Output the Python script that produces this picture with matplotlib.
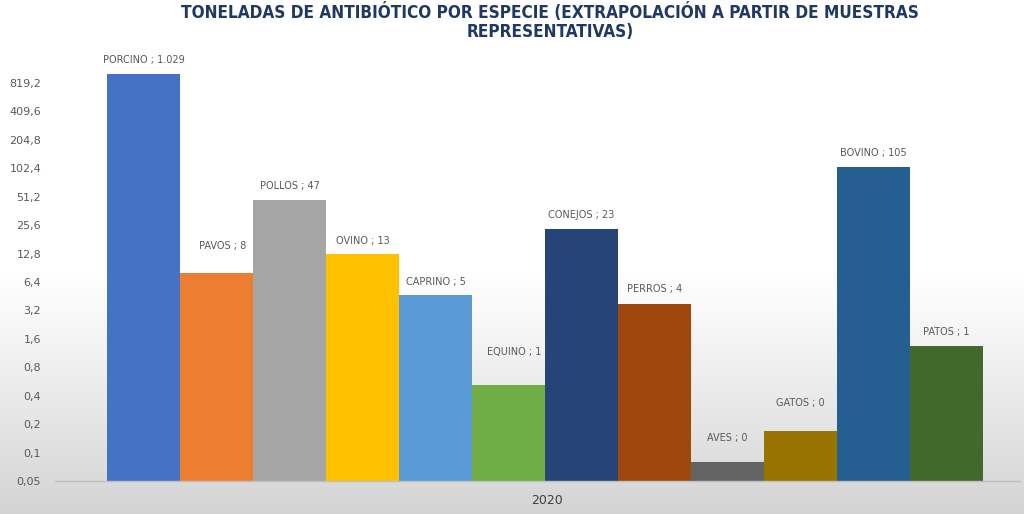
import numpy as np
import matplotlib
matplotlib.use("Agg")
import matplotlib.pyplot as plt
from matplotlib.ticker import FixedLocator, FixedFormatter, NullLocator

especies = ["PORCINO", "PAVOS", "POLLOS", "OVINO", "CAPRINO", "EQUINO",
            "CONEJOS", "PERROS", "AVES", "GATOS", "BOVINO", "PATOS"]
toneladas = [1029, 7.9, 47, 12.8, 4.7, 0.52, 23.3, 3.7, 0.08, 0.17, 105, 1.34]
colores = ["#4472C4", "#ED7D31", "#A5A5A5", "#FFC000", "#5B9BD5", "#70AD47",
           "#264478", "#9E480E", "#636363", "#997300", "#255E91", "#43682B"]
ticks_y = [0.05 * 2 ** k for k in range(15)]
anio = "2020"
titulo = ("TONELADAS DE ANTIBIÓTICO POR ESPECIE (EXTRAPOLACIÓN A PARTIR DE MUESTRAS\n"
          "REPRESENTATIVAS)")

# label lift above bar top (pixels) and x nudge (bar units)
lift = [14, 27, 14, 13, 13, 33, 14, 15, 24, 28, 14, 14]
nudge = [0, 0.08, 0, 0, 0, 0.08, 0, 0, 0, 0, 0, 0]

W, H = 1024, 514
fig = plt.figure(figsize=(W / 100, H / 100), dpi=100)

# background gradient (slide screenshot)
bg = fig.add_axes([0, 0, 1, 1], zorder=-10)
g = np.ones((H, 1))
rows = np.arange(H)
start = 270
t = np.clip((rows - start) / (H - start), 0, 1)
g[:, 0] = 1 - 0.17 * t ** 1.1
bg.imshow(np.dstack([g, g, g]), aspect="auto", extent=[0, 1, 0, 1], origin="upper")
bg.axis("off")

px_per_dbl = 28.43
y0 = 481
top_px = 58
ax = fig.add_axes([55 / W, 1 - y0 / H, (1020 - 55) / W, (y0 - top_px) / H])
ax.set_facecolor("none")
ax.set_yscale("log", base=2)
ax.set_ylim(0.05, 0.05 * 2 ** ((y0 - top_px) / px_per_dbl))
ax.set_xlim(-0.5 - 52 / 73, 11.5 + 37 / 73)

x = np.arange(len(especies))
ax.bar(x, toneladas, width=1.0, color=colores, zorder=2)

def fmt(v):
    n = int(round(v))
    return "{:,}".format(n).replace(",", ".")

for i, (e, v) in enumerate(zip(especies, toneladas)):
    ax.annotate(f"{e} ; {fmt(v)}", (x[i] + nudge[i], v), xytext=(0, lift[i] * 0.72),
                textcoords="offset points", ha="center", va="center",
                fontsize=7, color="#595959", family="DejaVu Sans")

ax.yaxis.set_major_locator(FixedLocator(ticks_y))
ax.yaxis.set_major_formatter(FixedFormatter(
    [("%g" % v).replace(".", ",") if v != 0.05 else "0,05" for v in ticks_y]))
ax.yaxis.set_minor_locator(NullLocator())
ax.tick_params(axis="y", length=0, labelsize=8, labelcolor="#595959", pad=10)
ax.set_xticks([])
for s in ["top", "right", "left"]:
    ax.spines[s].set_visible(False)
ax.spines["bottom"].set_color("#BFBFBF")
ax.spines["bottom"].set_linewidth(1.0)

fig.text(547 / W, 1 - 500 / H, anio, ha="center", va="center",
         fontsize=9, color="#404040")
fig.text(550 / W, 1 - 22 / H, titulo, ha="center", va="center",
         fontsize=12.3, fontweight="bold", fontstretch="condensed",
         color="#1F3864", linespacing=1.05)

fig.savefig("out.png", dpi=100)
